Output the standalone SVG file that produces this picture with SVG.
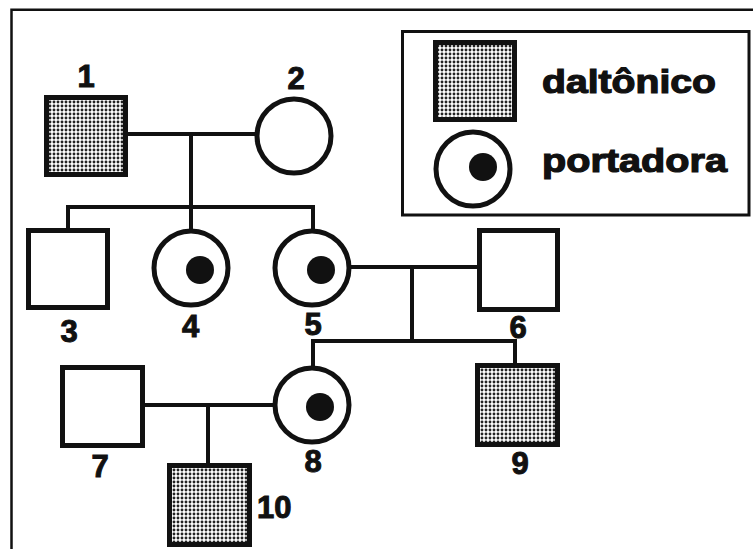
<svg xmlns="http://www.w3.org/2000/svg" width="753" height="549" viewBox="0 0 753 549">
<style>
.sq{fill:#fff;stroke:#111;stroke-width:5}
.aff{fill:url(#dots);stroke:#111;stroke-width:5}
.ci{fill:#fff;stroke:#111;stroke-width:5}
.dot{fill:#111}
.ln{fill:none;stroke:#111;stroke-width:4;stroke-linecap:square}
.lbl{font-family:"Liberation Sans",Arial,sans-serif;font-weight:bold;font-size:31px;fill:#111;stroke:#111;stroke-width:1;text-anchor:middle}
.leg{font-family:"Liberation Sans",Arial,sans-serif;font-weight:bold;font-size:33px;fill:#111;stroke:#111;stroke-width:1.2}
</style>
<defs>
<pattern id="dots" width="4" height="4" patternUnits="userSpaceOnUse">
<rect width="4" height="4" fill="#fff"/>
<circle cx="2" cy="2" r="1.45" fill="#222"/>
</pattern>
</defs>
<rect width="753" height="549" fill="#fff"/>
<path d="M11.5,549 V9.7 H753" fill="none" stroke="#111" stroke-width="2.5"/>
<g id="connectors">
<path class="ln" d="M128,134 H257 M191,134 V207 M68,207 H313 M68,207 V230 M191,207 V231 M313,207 V231"/>
<path class="ln" d="M349,267 H479 M412,267 V341 M313,341 H515 M313,341 V368 M515,341 V365"/>
<path class="ln" d="M142,405 H275 M208,405 V465"/>
</g>
<g id="n1"><rect class="aff" x="46.5" y="97.5" width="79" height="77"/><text class="lbl" x="86" y="87">1</text></g>
<g id="n2"><circle class="ci" cx="294" cy="136" r="37"/><text class="lbl" x="296" y="89">2</text></g>
<g id="n3"><rect class="sq" x="28.5" y="230.5" width="79" height="77"/><text class="lbl" x="69" y="342">3</text></g>
<g id="n4"><circle class="ci" cx="191" cy="268" r="37"/><circle class="dot" cx="200" cy="270" r="14"/><text class="lbl" x="190.5" y="337">4</text></g>
<g id="n5"><circle class="ci" cx="312" cy="268" r="37"/><circle class="dot" cx="321" cy="270" r="14"/><text class="lbl" x="313" y="335">5</text></g>
<g id="n6"><rect class="sq" x="479.5" y="230.5" width="78" height="79"/><text class="lbl" x="518" y="338">6</text></g>
<g id="n7"><rect class="sq" x="62.5" y="367.5" width="80" height="78"/><text class="lbl" x="100" y="477">7</text></g>
<g id="n8"><circle class="ci" cx="312" cy="405" r="37"/><circle class="dot" cx="320" cy="407" r="14"/><text class="lbl" x="313" y="472">8</text></g>
<g id="n9"><rect class="aff" x="477.5" y="365.5" width="80" height="79"/><text class="lbl" x="520" y="474">9</text></g>
<g id="n10"><rect class="aff" x="169.5" y="465.5" width="80" height="79"/><text class="lbl" x="257" y="518" style="text-anchor:start">10</text></g>
<g id="legend">
<rect x="402.5" y="31.5" width="346.5" height="183.5" fill="#fff" stroke="#111" stroke-width="3"/>
<rect class="aff" x="435.5" y="42.5" width="79" height="77"/>
<circle class="ci" cx="473" cy="169" r="37"/><circle class="dot" cx="483" cy="167" r="14"/>
<text class="leg" x="542" y="93" textLength="174" lengthAdjust="spacingAndGlyphs">daltônico</text>
<text class="leg" x="542" y="172" textLength="185" lengthAdjust="spacingAndGlyphs">portadora</text>
</g>
</svg>
